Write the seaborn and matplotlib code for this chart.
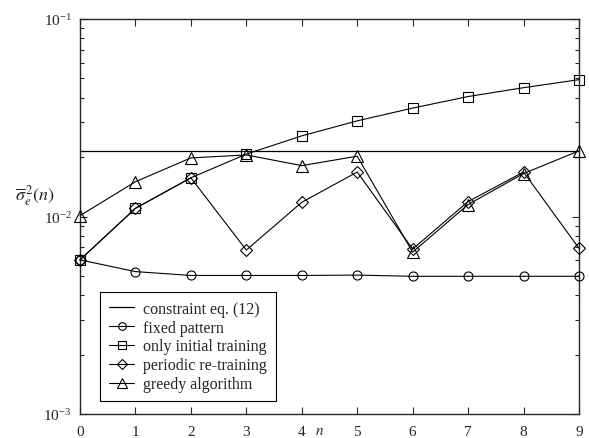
import numpy as np
import pandas as pd
import seaborn as sns
import matplotlib
matplotlib.use("Agg")
import matplotlib.pyplot as plt
from matplotlib.ticker import LogLocator, NullFormatter

# data
n = [0, 1, 2, 3, 4, 5, 6, 7, 8, 9]
constraint = 0.0215
fixed_pattern = [0.00603, 0.00526, 0.00503, 0.00503, 0.00503, 0.00505, 0.00498, 0.00498, 0.00498, 0.00498]
only_initial = [0.00603, 0.0110, 0.0157, 0.0207, 0.0256, 0.0305, 0.0354, 0.0405, 0.0449, 0.0493]
periodic = [0.00603, 0.0110, 0.0157, 0.00676, 0.0118, 0.0168, 0.00684, 0.0119, 0.0168, 0.0069]
greedy = [0.0101, 0.0150, 0.0198, 0.0205, 0.0181, 0.0202, 0.0066, 0.0115, 0.0165, 0.0215]

labels = ["fixed pattern", "only initial training", "periodic re-training", "greedy algorithm"]
series = [fixed_pattern, only_initial, periodic, greedy]
markers = ["o", "s", "D", "^"]
sizes = [6.5, 6.8, 5.8, 8.5]

sns.set_style("ticks")
plt.rcParams["font.family"] = ["Liberation Serif", "DejaVu Serif"]
plt.rcParams["mathtext.fontset"] = "stix"

fig = plt.figure(figsize=(5.89, 4.39), dpi=100)
ax = fig.add_axes([0.1358, 0.0547, 0.983 - 0.1358, 0.9544 - 0.0547])

ax.axhline(constraint, color="black", lw=0.9, label="constraint eq. (12)")
for vals, lab, m, ms in zip(series, labels, markers, sizes):
    df = pd.DataFrame({"n": n, "v": vals})
    sns.lineplot(data=df, x="n", y="v", ax=ax, color="black", lw=0.8,
                 marker=m, markersize=ms, markerfacecolor="none",
                 markeredgecolor="black", markeredgewidth=0.8, label=lab,
                 clip_on=False, zorder=3)

ax.set_yscale("log")
ax.set_ylim(1e-3, 1e-1)
ax.set_xlim(0, 9)
ax.set_xticks(n)
ax.yaxis.set_minor_locator(LogLocator(base=10, subs=np.arange(2, 10)))
ax.yaxis.set_minor_formatter(NullFormatter())
ax.tick_params(which="both", direction="in", top=True, right=True, labelsize=11, width=0.8)
ax.tick_params(which="major", length=5)
ax.tick_params(axis="x", which="major", pad=8)
ax.tick_params(axis="y", which="major", pad=6)
ax.tick_params(which="minor", length=3)
for s in ax.spines.values():
    s.set_linewidth(1.0)

ax.set_xlabel("")
ax.set_ylabel("")
fig.text(0.543, 0.002, "$n$", fontsize=11, ha="center", va="bottom")
fig.text(0.025, 0.555, r"$\overline{\sigma}_e^{\,2}(n)$", fontsize=13, ha="left", va="center")

leg = ax.legend(loc="lower left", bbox_to_anchor=(0.04, 0.033), fontsize=11.5,
                frameon=True, fancybox=False, edgecolor="black", framealpha=1,
                handlelength=1.6, handletextpad=0.55, borderpad=0.55,
                labelspacing=0.18, borderaxespad=0, markerscale=0.85)
leg.get_frame().set_linewidth(0.8)

fig.savefig("out.png", dpi=100)
